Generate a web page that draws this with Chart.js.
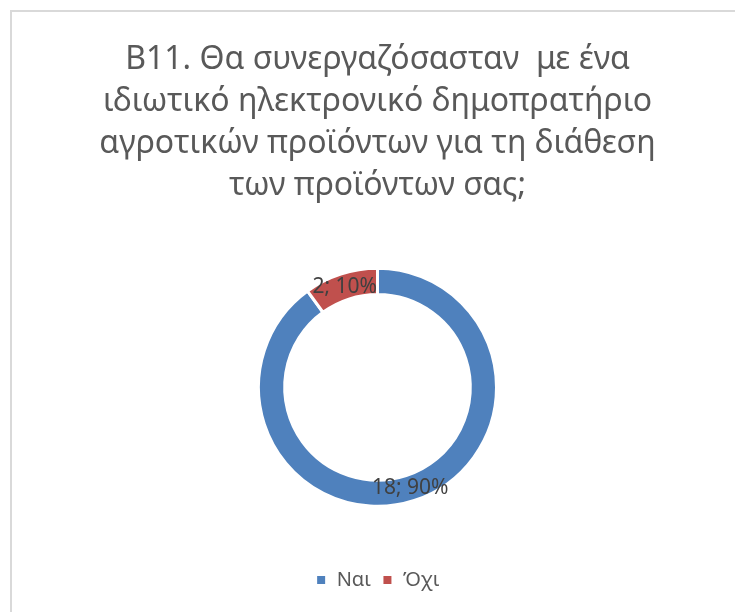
<!DOCTYPE html>
<html>
<head>
<meta charset="utf-8">
<script src="https://cdn.jsdelivr.net/npm/chart.js@4.4.1/dist/chart.umd.min.js"></script>
<style>
  html, body { margin: 0; padding: 0; background: #fff; }
  #wrap { width: 735px; height: 612px; }
</style>
</head>
<body>
<div id="wrap"><canvas id="chart" width="735" height="612"></canvas></div>
<script>
const titleLines = [
  'B11. Θα συνεργαζόσασταν  με ένα',
  'ιδιωτικό ηλεκτρονικό δημοπρατήριο',
  'αγροτικών προϊόντων για τη διάθεση',
  'των προϊόντων σας;'
];
const categories = ['Ναι', 'Όχι'];
const counts = [18, 2];
const percents = [90, 10];
const colors = ['#4F81BD', '#C0504D'];

const FONT = '"Noto Sans", "Liberation Sans", sans-serif';

// light grey frame around the chart box
const framePlugin = {
  id: 'frame',
  beforeDraw(chart) {
    const ctx = chart.ctx;
    ctx.save();
    ctx.fillStyle = '#ffffff';
    ctx.fillRect(0, 0, chart.width, chart.height);
    ctx.strokeStyle = '#d9d9d9';
    ctx.lineWidth = 2;
    ctx.strokeRect(11, 11, chart.width + 20, chart.height + 20);
    ctx.restore();
  }
};

// "count; percent%" written on each slice
const sliceLabels = {
  id: 'sliceLabels',
  afterDatasetsDraw(chart) {
    const ctx = chart.ctx;
    const meta = chart.getDatasetMeta(0);
    ctx.save();
    ctx.font = '21px ' + FONT;
    ctx.fillStyle = '#404040';
    ctx.textAlign = 'center';
    ctx.textBaseline = 'middle';
    meta.data.forEach((arc, i) => {
      const p = arc.getCenterPoint();
      ctx.fillText(counts[i] + '; ' + percents[i] + '%', p.x, p.y);
    });
    ctx.restore();
  }
};

new Chart(document.getElementById('chart'), {
  type: 'doughnut',
  data: {
    labels: categories,
    datasets: [{
      data: counts,
      backgroundColor: colors,
      borderColor: '#ffffff',
      borderWidth: 3,
      radius: 119,
      cutout: '78%'
    }]
  },
  options: {
    responsive: false,
    animation: false,
    layout: { padding: { left: 20, right: 0, top: 22, bottom: 12 } },
    plugins: {
      title: {
        display: true,
        text: titleLines,
        color: '#595959',
        font: { family: FONT, size: 32, weight: 'normal', lineHeight: 1.31 },
        padding: { top: 17, bottom: 9 }
      },
      legend: {
        position: 'bottom',
        labels: {
          color: '#595959',
          font: { family: FONT, size: 20 },
          boxWidth: 11,
          boxHeight: 11,
          padding: 11
        }
      },
      tooltip: { enabled: false }
    }
  },
  plugins: [framePlugin, sliceLabels]
});
</script>
</body>
</html>
